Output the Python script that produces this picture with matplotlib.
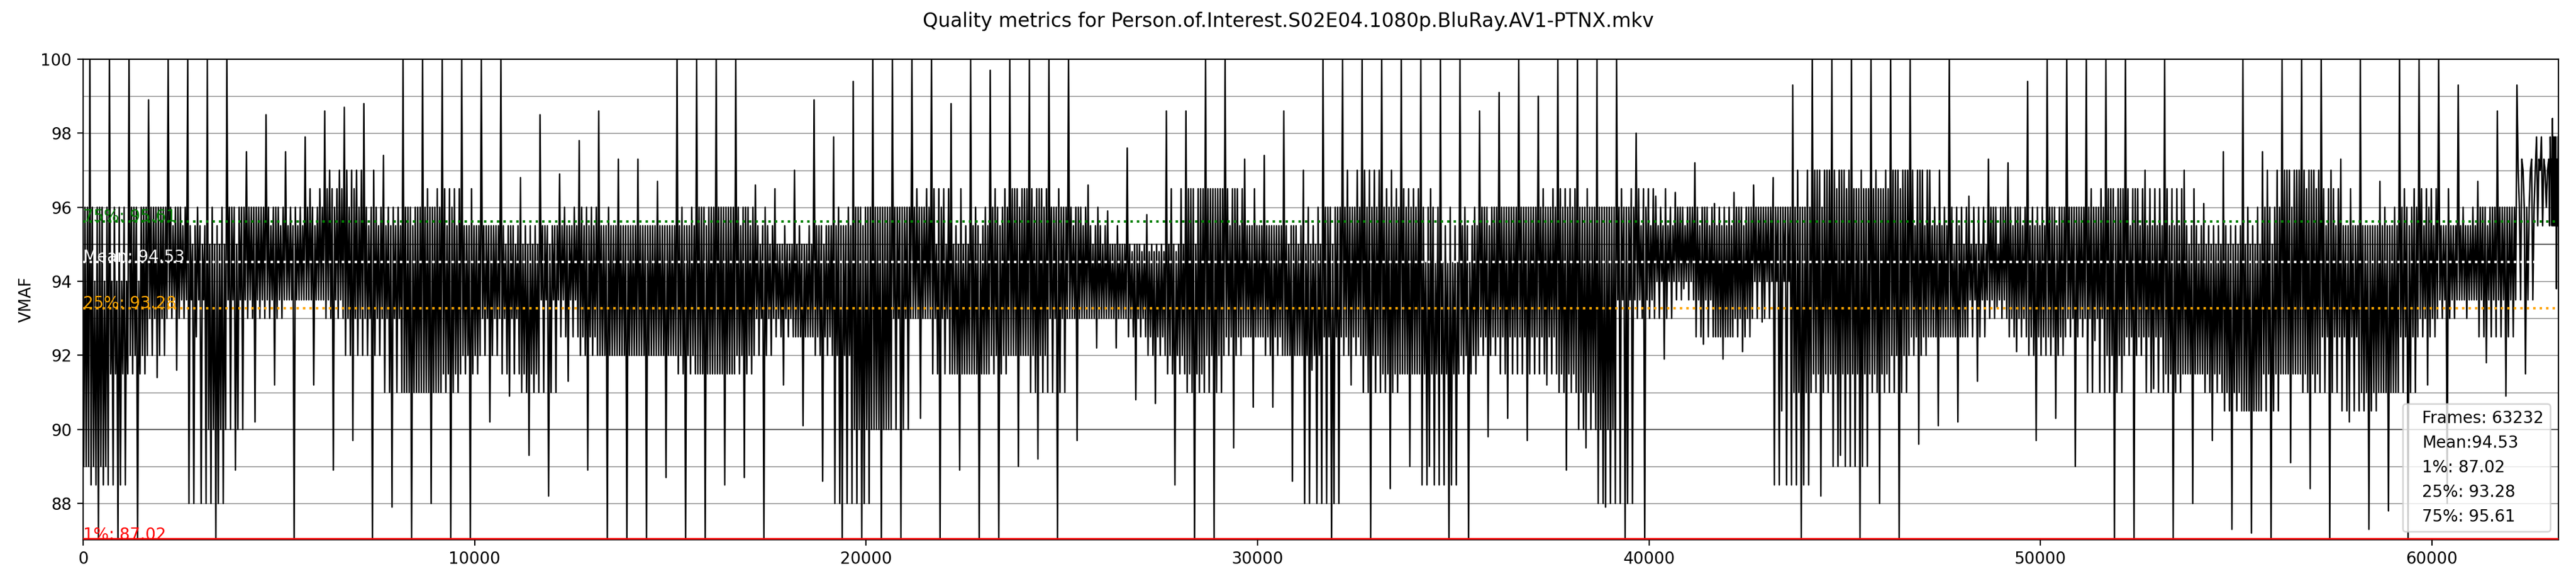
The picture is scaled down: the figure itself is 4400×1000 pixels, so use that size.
import matplotlib
matplotlib.use('Agg')
import matplotlib.pyplot as plt
from matplotlib.lines import Line2D
from matplotlib.ticker import MultipleLocator

TITLE = 'Quality metrics for Person.of.Interest.S02E04.1080p.BluRay.AV1-PTNX.mkv'
FRAMES = 63232
BIN = 500

# per 500-frame bin
core_lo = [
    89.0, 88.5, 91.5, 92.0, 93.0, 93.5, 88.0, 90.0, 93.5, 93.0,
    93.5, 93.5, 93.5, 93.0, 92.0, 93.0, 91.0, 91.0, 91.0, 91.5,
    92.0, 93.0, 91.5, 91.0, 93.5, 92.5, 92.0, 92.0, 92.0, 92.0,
    92.0, 91.5, 91.5, 91.5, 92.0, 93.0, 92.5, 92.5, 92.0, 88.0,
    90.0, 90.0, 93.0, 93.0, 91.5, 91.5, 91.5, 92.0, 92.0, 91.0,
    93.0, 93.0, 93.0, 93.0, 92.5, 92.0, 91.5, 91.0, 92.0, 92.5,
    92.5, 92.0, 92.0, 88.0, 92.5, 92.0, 91.0, 91.5, 91.5, 88.5,
    91.5, 92.0, 92.5, 91.5, 92.5, 91.5, 91.0, 90.0, 88.0, 93.5,
    93.0, 94.0, 93.5, 92.5, 92.5, 93.0, 94.0, 88.5, 91.0, 91.5,
    89.0, 91.5, 91.0, 92.0, 92.5, 92.5, 92.5, 93.5, 93.0, 92.5,
    92.0, 92.5, 93.0, 91.0, 92.0, 92.5, 91.0, 91.5, 91.5, 91.0,
    90.5, 90.5, 91.5, 91.5, 91.0, 92.5, 90.5, 91.0, 91.0, 92.5,
    93.0, 93.5, 93.5, 92.5, 93.5, 97.0, 95.5,
]
core_hi = [
    96.0, 94.0, 96.0, 96.0, 96.0, 95.5, 95.0, 96.0, 96.0, 96.0,
    95.5, 96.0, 96.5, 97.0, 96.0, 95.5, 96.0, 96.0, 96.5, 95.5,
    95.5, 95.5, 95.0, 95.5, 95.5, 96.0, 95.5, 95.5, 95.5, 95.5,
    95.5, 96.0, 96.0, 96.0, 95.5, 95.0, 95.0, 95.5, 95.5, 96.0,
    96.0, 96.0, 96.0, 96.5, 95.0, 95.5, 96.0, 96.5, 96.5, 96.0,
    96.0, 95.5, 95.0, 95.0, 94.8, 95.0, 96.5, 96.5, 96.5, 95.5,
    95.5, 95.5, 95.0, 96.0, 96.0, 97.0, 96.0, 96.5, 96.0, 94.5,
    95.5, 96.0, 96.0, 96.0, 96.0, 96.5, 96.0, 96.0, 96.0, 96.5,
    95.5, 96.0, 96.0, 95.5, 96.0, 96.0, 96.0, 96.0, 97.0, 97.0,
    96.5, 96.5, 97.0, 97.0, 95.5, 96.0, 95.0, 96.0, 96.0, 95.5,
    96.0, 96.0, 96.0, 96.5, 96.5, 95.5, 96.5, 95.5, 95.0, 95.5,
    95.0, 96.0, 97.0, 97.0, 96.5, 95.5, 95.5, 95.5, 96.0, 96.5,
    95.5, 95.5, 96.0, 96.0, 96.0, 97.3, 97.9,
]
peak_lo = [
    87.0, 87.0, 87.0, 91.4, 91.6, 92.5, 87.0, 88.9, 90.2, 91.2,
    87.0, 91.2, 88.9, 89.7, 87.0, 87.9, 87.0, 88.0, 87.0, 87.0,
    90.2, 90.9, 89.3, 88.2, 91.3, 88.9, 87.0, 87.0, 87.0, 88.7,
    87.0, 87.0, 88.5, 88.7, 87.0, 91.2, 90.1, 88.6, 87.0, 87.0,
    87.0, 87.0, 90.3, 87.0, 88.9, 87.0, 87.0, 89.0, 89.2, 87.0,
    89.7, 92.2, 92.2, 90.8, 90.7, 88.5, 87.0, 87.0, 89.5, 90.6,
    90.6, 88.6, 91.6, 87.0, 91.2, 87.0, 88.4, 89.0, 89.0, 87.0,
    87.0, 89.8, 90.3, 89.7, 91.2, 88.9, 89.5, 87.9, 87.0, 87.0,
    91.9, 93.8, 92.3, 91.9, 92.1, 92.9, 90.5, 87.0, 88.2, 89.3,
    87.0, 88.0, 87.0, 89.6, 90.1, 90.2, 91.3, 93.3, 92.1, 89.7,
    90.3, 89.0, 92.4, 87.0, 87.0, 91.1, 87.0, 88.0, 89.7, 87.3,
    87.2, 87.0, 89.1, 88.4, 87.0, 90.2, 87.3, 87.8, 87.0, 91.2,
    88.0, 93.0, 91.8, 90.9, 91.5, 97.0, 93.8,
]
peak_hi = [
    100.0, 100.0, 100.0, 98.9, 100.0, 100.0, 100.0, 100.0, 97.5, 98.5,
    97.5, 97.9, 98.6, 98.7, 98.8, 97.4, 100.0, 100.0, 100.0, 100.0,
    100.0, 100.0, 96.8, 98.5, 96.9, 97.8, 98.6, 97.3, 97.3, 96.7,
    100.0, 100.0, 100.0, 100.0, 96.6, 96.5, 97.0, 98.9, 97.9, 99.4,
    100.0, 100.0, 100.0, 100.0, 98.8, 100.0, 99.7, 100.0, 100.0, 100.0,
    100.0, 96.6, 95.9, 97.6, 95.8, 98.6, 98.6, 100.0, 100.0, 97.3,
    97.4, 98.6, 97.0, 100.0, 100.0, 100.0, 100.0, 100.0, 100.0, 100.0,
    100.0, 98.6, 99.1, 100.0, 99.0, 100.0, 100.0, 100.0, 100.0, 98.0,
    96.3, 96.4, 97.2, 96.1, 96.4, 96.6, 96.8, 99.3, 100.0, 100.0,
    100.0, 100.0, 100.0, 100.0, 97.0, 100.0, 96.3, 97.3, 97.2, 99.4,
    100.0, 100.0, 100.0, 100.0, 100.0, 97.0, 100.0, 97.0, 96.1, 97.5,
    100.0, 97.5, 100.0, 100.0, 100.0, 97.3, 100.0, 96.7, 100.0, 100.0,
    100.0, 99.3, 96.7, 98.6, 99.3, 97.9, 98.4,
]

mean_v = 94.53
p1, p25, p75 = 87.02, 93.28, 95.61


def clamp(j):
    return min(max(j, 0), len(core_lo) - 1)


# trace through each bin: swing across the dense band (its own bounds and the
# neighbouring bins' bounds, so the edges are not flat), plus one high and one
# low excursion per bin
order = [0, -1, 0, 1, 0, 1, -1, 0]
xs, ys = [], []
for i in range(len(core_lo)):
    start = i * BIN
    width = min(BIN, FRAMES - start)
    seq = []
    for k in range(len(order)):
        seq.append(core_lo[clamp(i + order[k])])
        seq.append(core_hi[clamp(i + order[-k - 1])])
    seq[5] = peak_hi[i]
    seq[12] = peak_lo[i]
    for k, v in enumerate(seq):
        xs.append(start + (k + 0.5) * width / len(seq))
        ys.append(v)

fig = plt.figure(figsize=(22, 5), dpi=200)
ax = fig.add_axes([142 / 4400, 79 / 1000, 4228 / 4400, 820 / 1000])

# grid: light every unit, dark on 90 / 95
ax.yaxis.set_minor_locator(MultipleLocator(1))
ax.tick_params(axis='y', which='minor', length=0)
ax.grid(True, axis='y', which='both', color='gray', linewidth=0.5, zorder=0)
for g in (90, 95):
    ax.axhline(g, color='black', linewidth=0.6, zorder=1)

ax.plot(xs, ys, color='black', linewidth=0.9, zorder=2)

ax.axhline(p75, color='green', linestyle=':', linewidth=1.5, zorder=3)
ax.axhline(mean_v, color='white', linestyle=':', linewidth=1.5, zorder=3)
ax.axhline(p25, color='orange', linestyle=':', linewidth=1.5, zorder=3)
ax.axhline(p1, color='red', linestyle='-', linewidth=2.5, zorder=3)
ax.text(0, p75, '75%%: %.2f' % p75, color='green', zorder=4)
ax.text(0, mean_v, 'Mean: %.2f' % mean_v, color='white', zorder=4)
ax.text(0, p25, '25%%: %.2f' % p25, color='orange', zorder=4)
ax.text(0, p1, '1%%: %.2f' % p1, color='red', zorder=4)

ax.set_xlim(0, FRAMES)
ax.set_ylim(p1, 100)
ax.set_ylabel('VMAF')
fig.suptitle(TITLE)

labels = [
    'Frames: %d' % FRAMES,
    'Mean:%.2f' % mean_v,
    '1%%: %.2f' % p1,
    '25%%: %.2f' % p25,
    '75%%: %.2f' % p75,
]
handles = [Line2D([], [], linestyle='none') for _ in labels]
leg = ax.legend(handles, labels, loc='lower right', handlelength=0)
leg.set_zorder(10)

fig.savefig('out.png', dpi=200)
